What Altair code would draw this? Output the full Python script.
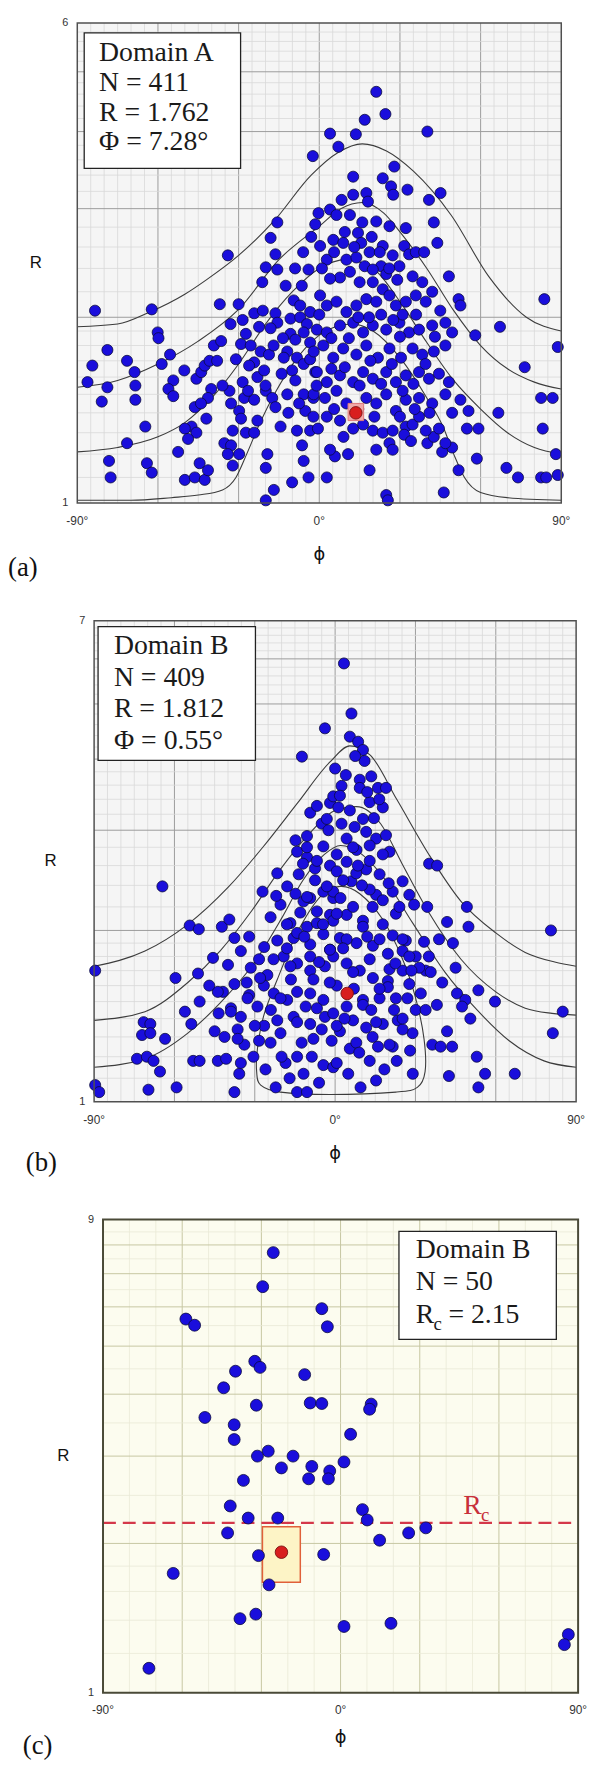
import altair as alt
import pandas as pd

SERIF = "Liberation Serif"
SANS = "Liberation Sans"

# ---------------- Panel (a) ----------------
A_POINTS = [
    (-2.4, 3.65), (-15.6, 2.85), (-18.1, 2.69), (-16.3, 2.53), (-19.9, 2.41), (-15.6, 2.39), (-21.2, 2.28), (-34.0, 2.52),
    (-4.0, 2.39), (-1.5, 2.83), (-83.4, 2.05), (-62.3, 2.06), (-60.1, 1.89), (-59.8, 1.85), (-78.8, 1.77), (-84.4, 1.67),
    (-86.2, 1.57), (-78.8, 1.54), (-80.9, 1.46), (-71.5, 1.70), (-68.7, 1.63), (-68.4, 1.55), (-68.4, 1.47), (-58.6, 1.68),
    (-55.5, 1.74), (-54.3, 1.58), (-56.1, 1.53), (-54.3, 1.49), (-50.2, 1.64), (-45.7, 1.59), (-43.9, 1.63), (-42.6, 1.67),
    (-40.8, 1.70), (-40.2, 1.53), (-41.4, 1.48), (-39.2, 1.80), (-36.5, 1.83), (-28.5, 1.98), (-24.2, 2.03), (-22.4, 1.93),
    (-16.3, 2.03), (-15.6, 1.96), (-18.1, 1.92), (-27.3, 1.88), (-29.1, 1.81), (-21.8, 1.76), (-18.7, 1.74), (-24.2, 1.69),
    (-26.1, 1.67), (-23.0, 1.60), (-20.5, 1.64), (-31.0, 1.71), (-33.4, 1.52), (-32.8, 1.45), (-28.5, 1.57), (-27.9, 1.48),
    (-24.2, 1.47), (-19.9, 1.52), (-17.5, 1.48), (-16.3, 1.43), (-46.3, 1.43), (-42.0, 1.37), (-47.5, 1.33), (-50.0, 1.32),
    (-45.7, 1.30), (-48.8, 1.27), (-29.8, 1.41), (-29.1, 1.37), (-32.2, 1.31), (-27.3, 1.30), (-24.2, 1.30), (-35.3, 1.25),
    (-32.8, 1.24), (-34.0, 1.20), (-32.2, 1.15), (-29.8, 1.20), (-64.7, 1.33), (-71.5, 1.25), (-78.2, 1.17), (-77.6, 1.10),
    (-64.1, 1.16), (-62.3, 1.12), (-52.5, 1.21), (-50.0, 1.09), (-46.3, 1.10), (-44.5, 1.16), (-42.6, 1.09), (-41.4, 1.13),
    (-14.4, 1.33), (-19.3, 1.20), (-19.9, 1.14), (-16.9, 1.05), (-19.9, 1.01), (-10.1, 1.08), (-5.8, 1.17), (-4.0, 1.10),
    (-6.4, 1.24), (-9.5, 2.13), (-7.1, 2.09), (-10.7, 1.99), (-7.1, 2.00), (-4.6, 1.95), (-3.4, 2.04), (-10.7, 1.88),
    (-8.9, 1.84), (-5.8, 1.89), (-3.4, 1.82), (-11.9, 1.76), (-8.3, 1.72), (-10.1, 1.64), (-5.8, 1.68), (-3.4, 1.71),
    (-1.5, 1.63), (-8.9, 1.58), (-5.8, 1.50), (-2.2, 1.48), (-5.2, 1.41), (-2.2, 1.38), (-8.3, 1.31), (-3.4, 1.31),
    (-13.2, 1.72), (-11.9, 1.50),
    (21.2, 4.64), (24.6, 4.27), (16.9, 4.18), (13.6, 3.96), (4.0, 3.97), (7.1, 3.78), (40.2, 4.00), (27.9, 3.51),
    (23.6, 3.36), (26.7, 3.26), (27.5, 3.16), (32.8, 3.22), (12.6, 3.38), (40.8, 3.10), (45.1, 3.18), (8.3, 3.10),
    (12.6, 3.16), (17.5, 3.18), (18.1, 3.08), (-0.3, 2.95), (4.0, 2.99), (6.4, 2.93), (11.4, 2.93), (21.2, 2.86),
    (42.6, 2.85), (32.2, 2.79), (31.6, 2.61), (5.2, 2.67), (8.9, 2.64), (14.4, 2.74), (15.6, 2.64), (18.7, 2.55),
    (16.9, 2.42), (43.9, 2.64), (33.4, 2.53), (35.9, 2.55), (39.0, 2.55), (10.1, 2.48), (13.8, 2.50), (23.0, 2.42),
    (24.9, 2.35), (19.9, 2.39), (11.4, 2.37), (7.7, 2.32), (4.0, 2.31), (48.2, 2.33), (51.8, 2.14), (52.5, 2.09),
    (83.7, 2.14), (67.2, 1.93), (58.0, 1.87), (76.4, 1.66), (88.7, 1.79), (82.5, 1.48), (86.8, 1.48), (66.6, 1.40),
    (83.1, 1.32), (88.0, 1.20), (88.7, 1.11), (82.5, 1.10), (84.4, 1.10), (69.6, 1.14), (73.9, 1.10), (54.9, 1.32),
    (59.2, 1.32), (55.5, 1.41), (52.5, 1.47), (49.4, 1.23), (45.7, 1.21), (46.9, 1.25), (58.6, 1.18), (51.8, 1.13),
    (46.3, 1.04), (40.2, 1.25), (42.6, 1.28), (24.9, 1.03), (25.5, 1.01), (18.7, 1.13), (10.7, 1.20), (5.8, 1.19),
    (4.0, 1.22), (2.8, 1.10), (21.2, 1.22), (26.1, 1.25), (27.3, 1.22), (32.2, 1.33), (34.7, 1.34), (31.6, 1.29),
    (34.1, 1.26), (0.3, 2.17), (2.8, 2.09), (6.4, 2.12), (10.1, 2.04), (13.8, 2.09), (17.5, 2.14), (21.2, 2.12),
    (23.6, 2.22), (26.1, 2.17), (28.5, 2.09), (32.2, 2.12), (35.9, 2.17), (39.6, 2.12), (42.0, 2.20), (-0.9, 1.91),
    (2.8, 1.89), (7.7, 1.94), (12.6, 1.96), (16.3, 1.89), (19.9, 1.94), (24.9, 1.91), (29.8, 1.96), (33.4, 1.89),
    (37.1, 1.91), (42.0, 1.94), (46.9, 1.96), (49.4, 1.89), (-2.1, 1.76), (1.5, 1.80), (5.2, 1.72), (8.9, 1.78),
    (13.8, 1.74), (17.5, 1.80), (21.8, 1.72), (26.1, 1.78), (30.4, 1.72), (34.7, 1.78), (38.3, 1.74), (42.6, 1.76),
    (46.9, 1.80), (-0.9, 1.63), (2.8, 1.57), (7.7, 1.61), (12.6, 1.57), (16.3, 1.63), (19.9, 1.59), (24.9, 1.63),
    (28.5, 1.57), (32.2, 1.61), (37.1, 1.63), (40.8, 1.59), (44.5, 1.62), (48.2, 1.57), (-2.1, 1.50), (2.1, 1.48),
    (6.4, 1.52), (10.1, 1.45), (17.5, 1.48), (21.2, 1.45), (24.9, 1.50), (28.5, 1.41), (32.2, 1.47), (37.1, 1.48),
    (42.0, 1.45), (46.9, 1.50), (49.4, 1.40), (2.8, 1.38), (7.7, 1.36), (12.6, 1.32), (16.3, 1.34), (19.9, 1.31),
    (23.6, 1.30), (27.3, 1.31), (37.1, 1.38), (39.6, 1.31), (44.5, 1.32), (0.3, 2.61), (2.8, 2.48), (23.6, 2.61),
    (27.3, 2.52), (29.8, 2.42), (19.9, 2.28), (15.0, 2.28), (34.7, 2.33), (38.3, 2.28), (26.1, 2.81),
    (-12.5, 2.25), (-9.0, 2.40), (-6.0, 2.55), (-3.0, 2.70), (1.0, 2.40), (5.5, 2.55), (9.5, 2.75), (13.0, 2.60),
    (16.0, 2.85), (19.5, 2.70), (22.5, 2.55), (26.0, 2.40), (29.0, 2.30), (31.0, 2.02), (27.5, 1.98), (23.0, 2.02),
    (18.5, 2.00), (14.5, 2.00), (11.0, 1.85), (4.5, 1.85), (0.0, 2.02), (-6.5, 2.25), (-13.5, 1.85), (-17.0, 1.80),
    (-21.0, 2.05), (-25.5, 1.80), (-20.0, 1.55), (-14.0, 1.62), (-11.5, 1.40), (-7.5, 1.45), (-1.0, 1.55), (4.5, 1.65),
    (9.5, 1.66), (15.0, 1.55), (19.0, 1.70), (23.0, 1.56), (27.0, 1.68), (31.0, 1.52), (35.0, 1.56), (39.5, 1.68),
    (43.0, 1.86), (45.0, 2.05), (36.0, 2.02), (30.0, 1.86), (20.5, 1.38), (14.5, 1.42), (5.5, 1.42), (-0.5, 1.32),
    (9.0, 1.28), (30.0, 1.38), (35.5, 1.42), (41.0, 1.40), (-23.0, 1.36), (-26.5, 1.52), (-36.0, 1.55), (-38.0, 1.70),
    (-44.0, 1.45), (-30.0, 2.10), (-33.0, 1.95), (-37.0, 2.10),
]
A_MEAN = (13.6, 1.40)
A_MEAN_BOX = (10.7, 16.5, 1.36, 1.45)
A_CURVES = {
    "a1": [(-90, 1.93), (-75, 1.95), (-63, 2.04), (-50, 2.18), (-42, 2.30), (-30, 2.52), (-17, 2.86), (-3, 3.40),
           (7, 3.70), (16, 3.82), (25, 3.72), (35, 3.45), (49, 2.93), (63, 2.33), (77, 2.00), (90, 1.90)],
    "a2": [(-90, 1.54), (-75, 1.58), (-60, 1.68), (-45, 1.83), (-30, 2.06), (-15, 2.48), (0, 2.81), (8, 3.00),
           (16, 3.07), (24, 2.95), (30, 2.75), (40, 2.40), (50, 2.05), (60, 1.80), (70, 1.65), (80, 1.57), (90, 1.53)],
    "a3": [(-90, 1.21), (-75, 1.23), (-60, 1.28), (-50, 1.35), (-40, 1.48), (-30, 1.68), (-20, 1.95), (-10, 2.20),
           (0, 2.40), (10, 2.48), (20, 2.40), (30, 2.12), (40, 1.82), (50, 1.58), (60, 1.42), (70, 1.30), (80, 1.23),
           (90, 1.20)],
    "a4": [(-90, 1.01), (-70, 1.01), (-55, 1.02), (-45, 1.03), (-36, 1.05), (-31, 1.10), (-27, 1.20), (-22, 1.35),
           (-16, 1.52), (-9, 1.70), (-2, 1.84), (6, 1.93), (12, 1.95), (20, 1.90), (30, 1.72), (40, 1.48), (46, 1.33),
           (50, 1.20), (54, 1.10), (60, 1.04), (70, 1.02), (90, 1.01)],
}
A_INFO = ["Domain A", "N = 411", "R = 1.762", "Φ = 7.28°"]

# ---------------- Panel (b) ----------------
B_POINTS = [
    (-3.8, 4.53), (-12.4, 4.04), (-64.5, 2.39), (-89.6, 1.70), (-89.6, 1.07), (-88.1, 1.04), (-54.3, 2.04), (-50.9, 2.01),
    (-42.3, 2.03), (-39.5, 2.09), (-45.6, 1.79), (-59.6, 1.65), (-51.2, 1.68), (-37.6, 1.94), (-32.1, 1.95), (-35.2, 1.84),
    (-28.4, 1.78), (-21.6, 2.52), (-27.1, 2.34), (-17.9, 2.39), (-14.8, 2.88), (-10.5, 2.93), (-14.2, 2.75), (-10.5, 2.69),
    (-5.0, 3.08), (-1.9, 3.35), (-4.4, 2.81), (-7.5, 2.57), (-13.6, 2.51), (-14.8, 2.32), (-9.3, 2.28), (-4.4, 2.34),
    (-1.9, 2.60), (-13.0, 2.15), (-6.8, 2.16), (-1.9, 2.13), (-16.7, 2.06), (-10.5, 2.03), (-4.4, 1.97), (-21.6, 1.92),
    (-15.5, 1.94), (-26.5, 1.87), (-9.3, 1.89), (-1.9, 1.85), (-31.5, 1.72), (-25.3, 1.67), (-19.2, 1.80), (-14.2, 1.75),
    (-9.3, 1.70), (-3.8, 1.73), (-37.6, 1.61), (-41.9, 1.56), (-50.6, 1.50), (-56.1, 1.44), (-53.7, 1.37), (-45.0, 1.33),
    (-38.9, 1.46), (-35.2, 1.41), (-29.0, 1.47), (-32.1, 1.54), (-22.9, 1.55), (-17.9, 1.51), (-9.3, 1.55), (-4.4, 1.51),
    (-26.5, 1.36), (-21.6, 1.39), (-15.5, 1.41), (-9.3, 1.37), (-3.8, 1.41), (-33.9, 1.26), (-28.4, 1.28), (-24.1, 1.27),
    (-18.5, 1.17), (-11.8, 1.12), (-8.7, 1.20), (-4.4, 1.16), (-35.8, 1.12), (-37.6, 1.04), (-22.2, 1.06), (-14.2, 1.04),
    (-10.5, 1.04), (-71.5, 1.38), (-69.0, 1.37), (-72.1, 1.31), (-69.0, 1.32), (-63.5, 1.29), (-74.0, 1.19), (-70.3, 1.20),
    (-67.8, 1.18), (-65.4, 1.13), (-69.7, 1.05), (-59.2, 1.06), (-53.0, 1.18), (-50.6, 1.18), (-43.8, 1.18), (-40.7, 1.19),
    (-35.2, 1.17), (-41.3, 1.30), (-36.4, 1.34), (-0.7, 3.44), (-9.3, 3.22), (-6.8, 3.31), (-3.1, 3.14), (-11.8, 2.25),
    (-0.7, 2.28), (-20.4, 2.22), (-24.1, 2.11),
    (3.3, 5.89), (6.1, 4.81), (5.5, 4.38), (8.6, 4.29), (10.4, 4.15), (11.0, 3.97), (9.2, 3.68), (13.5, 3.73),
    (2.4, 3.59), (1.8, 3.45), (9.2, 3.56), (16.0, 3.56), (19.0, 3.56), (1.2, 3.29), (12.9, 3.36), (17.8, 3.29),
    (10.4, 3.14), (2.4, 3.08), (7.3, 3.04), (11.6, 2.98), (15.3, 2.90), (19.0, 2.94), (20.3, 2.75), (12.9, 2.82),
    (8.0, 2.77), (4.3, 2.90), (35.1, 2.62), (38.1, 2.60), (25.2, 2.44), (21.5, 2.34), (11.6, 2.56), (16.6, 2.51),
    (4.3, 2.64), (0.6, 2.54), (-0.7, 2.34), (6.1, 2.44), (15.3, 2.31), (27.7, 2.31), (29.5, 2.22), (34.4, 2.20),
    (49.2, 2.20), (41.8, 2.07), (49.8, 2.03), (80.6, 2.00), (38.8, 1.93), (33.2, 1.91), (26.4, 1.92), (21.5, 1.96),
    (17.8, 2.05), (10.4, 2.08), (4.3, 2.13), (-0.7, 2.08), (1.8, 1.94), (8.0, 1.90), (14.1, 1.88), (19.7, 1.82),
    (25.2, 1.84), (30.1, 1.80), (33.8, 1.70), (35.7, 1.69), (-0.7, 1.80), (4.3, 1.75), (9.2, 1.70), (14.1, 1.65),
    (19.7, 1.63), (25.2, 1.70), (27.7, 1.61), (31.4, 1.72), (19.7, 1.59), (16.6, 1.52), (27.0, 1.52), (30.1, 1.45),
    (33.8, 1.45), (10.4, 1.51), (4.3, 1.47), (-0.7, 1.43), (6.7, 1.39), (11.6, 1.35), (17.8, 1.37), (23.4, 1.39),
    (28.9, 1.32), (25.2, 1.34), (1.8, 1.33), (5.5, 1.24), (16.0, 1.25), (21.5, 1.25), (-1.3, 1.28), (-0.7, 1.15),
    (4.9, 1.12), (15.3, 1.09), (18.4, 1.14), (36.3, 1.26), (39.4, 1.25), (43.7, 1.25), (41.8, 1.33), (45.5, 1.55),
    (48.6, 1.51), (50.5, 1.40), (47.4, 1.47), (53.5, 1.57), (59.7, 1.50), (85.0, 1.44), (81.3, 1.32), (42.5, 1.11),
    (56.0, 1.12), (53.5, 1.06), (52.9, 1.20), (67.1, 1.12),
    (-10.5, 2.80), (-6.8, 2.65), (0.6, 2.72), (6.7, 2.80), (12.9, 2.65), (17.8, 2.72), (7.9, 2.52), (3.0, 2.45),
    (-3.1, 2.39), (-10.5, 2.29), (12.9, 2.36), (17.8, 2.26), (22.7, 2.14), (6.7, 2.20), (0.6, 2.14), (-6.8, 2.06),
    (-14.2, 1.98), (10.4, 2.03), (16.6, 1.93), (25.2, 1.93), (4.3, 1.93), (-1.9, 1.85), (-9.3, 1.80), (-16.7, 1.73),
    (12.9, 1.78), (20.3, 1.71), (27.7, 1.80), (6.7, 1.69), (0.6, 1.60), (-8.1, 1.64), (-14.2, 1.56), (-20.4, 1.52),
    (-26.6, 1.60), (-32.7, 1.52), (16.6, 1.58), (22.7, 1.52), (10.4, 1.48), (-6.8, 1.46), (-14.2, 1.38), (0.6, 1.36),
    (15.3, 1.38), (25.2, 1.40), (-20.4, 1.32), (-8.1, 1.29), (7.9, 1.27), (20.3, 1.26), (-14.2, 1.20), (0.6, 1.17),
    (12.9, 1.18), (-36.4, 1.29), (-38.9, 1.44), (-43.8, 1.56),
    (-2.5, 3.00), (5.5, 3.25), (14.5, 3.15), (8.5, 2.60), (-7.5, 2.45), (-12.0, 2.62), (2.0, 2.28), (10.0, 2.40),
    (20.0, 2.42), (24.0, 2.20), (14.0, 2.20), (-4.5, 2.05), (-11.5, 1.95), (-18.0, 1.86), (-23.0, 1.78), (-28.0, 1.65),
    (-6.0, 1.76), (3.0, 1.86), (12.0, 1.95), (22.5, 1.75), (28.5, 1.70), (-16.5, 1.64), (-11.0, 1.47), (-2.0, 1.62),
    (7.0, 1.58), (13.5, 1.45), (22.0, 1.45), (-24.0, 1.45), (-30.0, 1.36), (-5.0, 1.34), (3.5, 1.40), (9.0, 1.22),
    (14.0, 1.30), (23.0, 1.18), (28.0, 1.23), (-12.5, 1.27), (-20.0, 1.20), (-26.0, 1.14), (-30.5, 1.20), (-17.0, 1.10),
    (-6.0, 1.08), (9.5, 1.06), (29.0, 1.12), (32.0, 1.55), (38.0, 1.48), (35.0, 1.80), (40.0, 1.62), (44.0, 1.90),
    (45.0, 1.72), (-43.5, 1.43), (-47.0, 1.60), (-33.0, 1.62), (-40.0, 1.74), (-18.0, 2.05), (-22.0, 2.30), (4.0, 3.75),
    (12.0, 3.50), (16.5, 3.40), (0.0, 3.85), (7.5, 4.05),
]
B_MEAN = (4.5, 1.55)
B_CURVES = {
    "b1": [(-90, 1.73), (-71, 1.84), (-55, 2.05), (-40, 2.38), (-27, 2.80), (-14, 3.35), (-2, 3.95), (5.5, 4.22),
           (13, 4.07), (23, 3.40), (35, 2.72), (47, 2.25), (60, 1.98), (71, 1.83), (82, 1.76), (90, 1.73)],
    "b2": [(-90, 1.39), (-71, 1.44), (-55, 1.62), (-43, 1.84), (-31, 2.17), (-21, 2.54), (-9, 2.98), (0, 3.25),
           (8, 3.30), (17, 3.08), (25, 2.62), (35, 2.15), (47, 1.78), (60, 1.56), (71, 1.46), (81, 1.43), (90, 1.42)],
    "b3": [(-90, 1.15), (-71, 1.19), (-55, 1.32), (-43, 1.49), (-30, 1.76), (-20, 2.10), (-12, 2.45), (-4, 2.72),
           (2, 2.82), (10, 2.72), (18, 2.48), (29, 2.06), (41, 1.69), (53, 1.45), (65, 1.28), (78, 1.18), (90, 1.15)],
}
B_LOOP = [(-29.0, 1.24), (-29.3, 1.13), (-27.8, 1.07), (-20.4, 1.04), (-1.9, 1.03), (22.7, 1.04), (30.7, 1.06),
          (33.6, 1.13), (33.2, 1.29), (30.1, 1.52), (25.2, 1.78), (17.8, 2.09), (9.2, 2.32), (1.8, 2.39),
          (-5.6, 2.29), (-14.2, 1.98), (-21.6, 1.64), (-26.6, 1.42)]
B_INFO = ["Domain B", "N = 409", "R = 1.812", "Φ = 0.55°"]

# ---------------- Panel (c) ----------------
C_POINTS = [
    (-25.5, 7.72), (-29.5, 6.59), (-58.6, 5.67), (-55.3, 5.51), (-7.1, 5.95), (-5.0, 5.47), (-32.5, 4.66), (-30.5, 4.53),
    (-39.8, 4.45), (-13.6, 4.38), (-44.3, 4.12), (-31.9, 3.80), (-11.5, 3.84), (-7.1, 3.83), (-51.4, 3.59), (11.6, 3.82),
    (11.0, 3.73), (-40.3, 3.47), (3.8, 3.32), (-40.3, 3.24), (-27.4, 3.07), (-31.5, 3.00), (-18.0, 3.00), (1.3, 2.92),
    (-22.4, 2.84), (-10.9, 2.86), (-4.1, 2.80), (-4.6, 2.70), (-12.1, 2.70), (-36.8, 2.68), (-41.8, 2.38), (8.3, 2.34),
    (10.1, 2.23), (-35.0, 2.25), (-23.8, 2.25), (-42.8, 2.10), (14.8, 2.03), (25.8, 2.10), (32.3, 2.15), (-31.1, 1.89),
    (-6.4, 1.90), (-63.4, 1.74), (-27.1, 1.65), (-38.1, 1.41), (-32.1, 1.44), (1.3, 1.36), (19.1, 1.38), (-72.6, 1.12),
    (86.3, 1.31), (84.8, 1.25),
]
C_MEAN = (-22.4, 1.92)
C_MEAN_BOX = (-29.6, -15.25, 1.67, 2.16)
C_RC = 2.2
C_INFO_TOP = ["Domain B", "N = 50"]

# grid values
AB_X_MAJOR = [-60, -30, 0, 30, 60]
AB_X_MINOR = [-85, -80, -75, -70, -65, -55, -50, -45, -40, -35, -25, -20, -15, -10, -5,
              5, 10, 15, 20, 25, 35, 40, 45, 50, 55, 65, 70, 75, 80, 85]
A_Y_MAJOR = [2, 3, 4, 5]
A_Y_MINOR = [1.1, 1.2, 1.3, 1.4, 1.5, 1.6, 1.7, 1.8, 1.9, 2.2, 2.4, 2.6, 2.8, 3.2, 3.4, 3.6, 3.8,
             4.2, 4.4, 4.6, 4.8, 5.2, 5.4, 5.6, 5.8]
B_Y_MAJOR = [2, 3, 4, 5, 6]
B_Y_MINOR = A_Y_MINOR + [6.2, 6.4, 6.6, 6.8]
C_X_MAJOR = [-60, -30, 0, 30, 60]
C_X_MINOR = [-80, -70, -50, -40, -20, -10, 10, 20, 40, 50, 70, 80]
C_Y_MAJOR = [2, 3, 4, 5, 6, 7, 8]
C_Y_MINOR = [1.2, 1.4, 1.6, 1.8, 2.5, 3.5, 4.5, 5.5, 6.5, 7.5, 8.5]

STYLE_AB = dict(bg="#f5f5f5", minor="#d9d9d9", major="#9c9c9c", border="#505050", bw=1.5)
STYLE_C = dict(bg="#fcfcef", minor="#e9e9d6", major="#c6c6a2", border="#4a4a38", bw=2.0)
PT_FILL = "#1a0edc"
PT_STROKE = "#0a0a3c"


def pts_df(pairs):
    return pd.DataFrame({"phi": [p[0] for p in pairs], "R": [p[1] for p in pairs]})


def curves_df(curves):
    rows = []
    for name, pairs in curves.items():
        for i, (ph, r) in enumerate(pairs):
            rows.append({"c": name, "i": i, "phi": ph, "R": r})
    return pd.DataFrame(rows)


def build_panel(p):
    off, w, h, rmax = p["off"], p["w"], p["h"], p["rmax"]
    st = p["style"]
    xs = alt.Scale(domain=[-90, 90], range=[off, off + w], nice=False, zero=False)
    ys = alt.Scale(type="log", domain=[1, rmax], nice=False)

    def xf(f):
        return alt.X(f, type="quantitative", scale=xs, axis=None)

    def yf(f):
        return alt.Y(f, type="quantitative", scale=ys, axis=None)

    def xd(v):
        return alt.XDatum(v, scale=xs, axis=None)

    def yd(v):
        return alt.YDatum(v, scale=ys, axis=None)

    one = alt.Chart(pd.DataFrame({"k": [0]}))
    L = []
    L.append(one.mark_rect(fill=st["bg"], strokeWidth=0).encode(
        x=xd(-90), x2=alt.datum(90), y=yd(1), y2=alt.datum(rmax)))
    for vals, col, sw in [(p["xmin"], st["minor"], 0.8), (p["xmaj"], st["major"], 1.0)]:
        L.append(alt.Chart(pd.DataFrame({"v": vals})).mark_rule(color=col, strokeWidth=sw).encode(
            x=xf("v"), y=yd(1), y2=alt.datum(rmax)))
    for vals, col, sw in [(p["ymin"], st["minor"], 0.8), (p["ymaj"], st["major"], 1.0)]:
        L.append(alt.Chart(pd.DataFrame({"v": vals})).mark_rule(color=col, strokeWidth=sw).encode(
            y=yf("v"), x=xd(-90), x2=alt.datum(90)))
    if p.get("curves"):
        L.append(alt.Chart(curves_df(p["curves"])).mark_line(
            interpolate="monotone", color="#3c3c3c", strokeWidth=1.1).encode(
            x=xf("phi"), y=yf("R"), detail="c:N", order="i:Q"))
    if p.get("loop"):
        ld = pts_df(p["loop"])
        ld["i"] = range(len(ld))
        L.append(alt.Chart(ld).mark_line(
            interpolate="cardinal-closed", color="#3c3c3c", strokeWidth=1.1).encode(
            x=xf("phi"), y=yf("R"), order="i:Q"))
    if p.get("rc"):
        L.append(alt.Chart(pd.DataFrame({"v": [p["rc"]]})).mark_rule(
            color="#d4384a", strokeWidth=2.2, strokeDash=[13, 7]).encode(
            y=yf("v"), x=xd(-90), x2=alt.datum(90)))
    if p.get("cbox"):
        b = p["cbox"]
        L.append(alt.Chart(pd.DataFrame({"x0": [b[0]], "x1": [b[1]], "y0": [b[2]], "y1": [b[3]]})).mark_rect(
            fill="#fdf4c6", stroke="#e0603a", strokeWidth=1.5).encode(
            x=xf("x0"), x2="x1:Q", y=yf("y0"), y2="y1:Q"))
    L.append(alt.Chart(pts_df(p["points"])).mark_circle(
        size=p["psize"], fill=PT_FILL, stroke=PT_STROKE, strokeWidth=0.8, opacity=1).encode(
        x=xf("phi"), y=yf("R")))
    if p.get("mbox"):
        b = p["mbox"]
        L.append(alt.Chart(pd.DataFrame({"x0": [b[0]], "x1": [b[1]], "y0": [b[2]], "y1": [b[3]]})).mark_rect(
            fill="#f0a8a8", stroke="#e07a7a", strokeWidth=1.0).encode(
            x=xf("x0"), x2="x1:Q", y=yf("y0"), y2="y1:Q"))
    L.append(alt.Chart(pts_df([p["mean"]])).mark_circle(
        size=160, fill="#d81e1e", stroke="#7a1010", strokeWidth=0.9, opacity=1).encode(
        x=xf("phi"), y=yf("R")))
    L.append(one.mark_rect(fillOpacity=0, stroke=st["border"], strokeWidth=st["bw"]).encode(
        x=xd(-90), x2=alt.datum(90), y=yd(1), y2=alt.datum(rmax)))
    # info box
    bx0, bx1, by0, by1 = p["ibox"]
    L.append(one.mark_rect(fill="white", stroke="#222222", strokeWidth=1.3).encode(
        x=alt.value(off + bx0), x2=alt.value(off + bx1), y=alt.value(by0), y2=alt.value(by1)))
    for txt, yy in p["ilines"]:
        L.append(one.mark_text(text=txt, align="left", baseline="alphabetic", font=SERIF,
                               fontSize=28, color="#1a1a1a").encode(
            x=alt.value(off + p["itx"]), y=alt.value(yy)))
    for txt, dx, yy, fs, col in p.get("extra_text", []):
        L.append(one.mark_text(text=txt, align="left", baseline="alphabetic", font=SERIF,
                               fontSize=fs, color=col).encode(
            x=alt.value(off + dx), y=alt.value(yy)))
    # axis labels
    L.append(alt.Chart(pd.DataFrame({"v": [1, rmax], "t": ["1", str(rmax)]})).mark_text(
        align="right", baseline="middle", dx=-9, font=SANS, fontSize=11, color="#333333").encode(
        x=xd(-90), y=yf("v"), text="t:N"))
    L.append(alt.Chart(pd.DataFrame({"v": [-90, 0, 90], "t": ["-90°", "0°", "90°"]})).mark_text(
        align="center", baseline="middle", dy=18, font=SANS, fontSize=12, color="#333333").encode(
        x=xf("v"), y=yd(1), text="t:N"))
    L.append(one.mark_text(text="R", align="center", baseline="middle", dx=p["r_dx"], font=SANS,
                           fontSize=17, color="#111111").encode(x=xd(-90), y=alt.value(h / 2)))
    L.append(one.mark_text(text="ϕ", align="center", baseline="middle", dy=p["phi_dy"],
                           font="DejaVu Sans", fontSize=18, color="#111111").encode(x=xd(0), y=yd(1)))
    L.append(one.mark_text(text=p["label"], align="left", baseline="middle", dx=p["lab_dx"],
                           dy=p["lab_dy"], font=SERIF, fontSize=27, color="#111111").encode(
        x=xd(-90), y=yd(1)))
    return alt.layer(*L).properties(width=off + w, height=h)


pa = build_panel(dict(
    off=0, w=489, h=485, rmax=6, style=STYLE_AB, xmaj=AB_X_MAJOR, xmin=AB_X_MINOR,
    ymaj=A_Y_MAJOR, ymin=A_Y_MINOR, curves=A_CURVES, points=A_POINTS, psize=125,
    mean=A_MEAN, mbox=A_MEAN_BOX, ibox=(7, 165, 10, 147), itx=22,
    ilines=list(zip(A_INFO, [38.7, 68.7, 98.7, 128.7])),
    r_dx=-42, phi_dy=53, label="(a)", lab_dx=-70, lab_dy=66))

pb = build_panel(dict(
    off=17, w=487, h=486, rmax=7, style=STYLE_AB, xmaj=AB_X_MAJOR, xmin=AB_X_MINOR,
    ymaj=B_Y_MAJOR, ymin=B_Y_MINOR, curves=B_CURVES, loop=B_LOOP, points=B_POINTS, psize=125,
    mean=B_MEAN, ibox=(4, 163, 6, 141), itx=20,
    ilines=list(zip(B_INFO, [33.7, 65.7, 97.7, 129.7])),
    r_dx=-44, phi_dy=53, label="(b)", lab_dx=-69, lab_dy=62))

pc = build_panel(dict(
    off=26, w=480, h=478, rmax=9, style=STYLE_C, xmaj=C_X_MAJOR, xmin=C_X_MINOR,
    ymaj=C_Y_MAJOR, ymin=C_Y_MINOR, points=C_POINTS, psize=145,
    mean=C_MEAN, cbox=C_MEAN_BOX, rc=C_RC, ibox=(299, 458, 12, 121), itx=316,
    ilines=list(zip(C_INFO_TOP, [38.5, 71.5])),
    extra_text=[("R", 316, 104.5, 28, "#1a1a1a"), ("c", 334, 112, 19, "#1a1a1a"),
                ("= 2.15", 349, 104.5, 28, "#1a1a1a"),
                ("R", 364, 297, 28, "#c8303a"), ("c", 382, 305, 19, "#c8303a")],
    r_dx=-40, phi_dy=46, label="(c)", lab_dx=-81, lab_dy=54))

chart = alt.vconcat(pa, pb, pc, spacing=119, bounds="flush").properties(
    padding={"left": 0, "top": 0, "right": 0, "bottom": 0}
).configure_view(stroke=None)

chart.save("out.html", embed_options={"renderer": "svg", "actions": False})
